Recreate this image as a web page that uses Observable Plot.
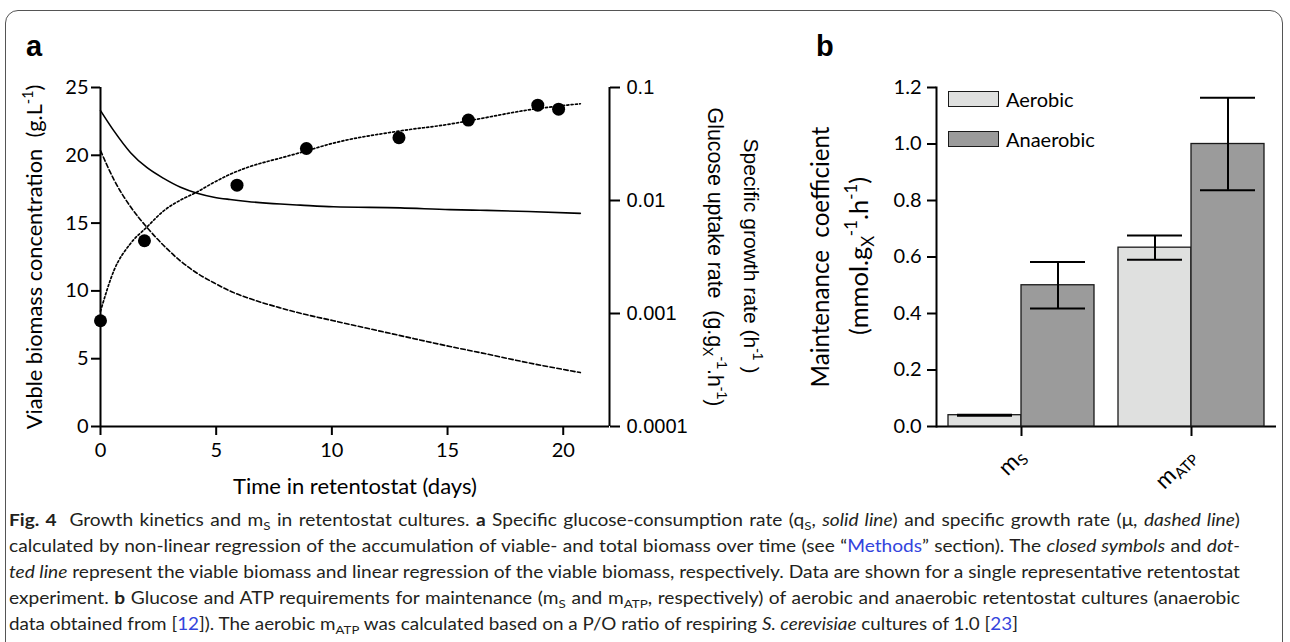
<!DOCTYPE html>
<html>
<head>
<meta charset="utf-8">
<script src="https://cdn.jsdelivr.net/npm/d3@7"></script>
<script src="https://cdn.jsdelivr.net/npm/@observablehq/plot@0.6"></script>
<style>
  html,body{margin:0;padding:0;background:#fff;}
  #root{position:relative;width:1290px;height:642px;overflow:hidden;color:#000;}
  #card{position:absolute;left:5px;top:10px;width:1278px;height:720px;border:1px solid #555;border-radius:13px;box-sizing:border-box;}
  .layer{position:absolute;top:0;}
  .layer svg{display:block;overflow:visible;}
  .panel-label{position:absolute;font-family:"Liberation Sans",Arial,sans-serif;font-weight:bold;font-size:29px;line-height:1;}
  #legend{position:absolute;left:948px;top:91px;font-family:Lato,sans-serif;font-size:20px;}
  .lg-row{position:absolute;left:0;display:flex;align-items:center;white-space:nowrap;height:16px;}
  .lg-sw{width:51px;height:16px;border:1.5px solid #1a1a1a;box-sizing:border-box;margin-right:7px;}
  #caption{position:absolute;left:9px;top:507px;font-family:Lato,sans-serif;font-size:17.5px;line-height:26px;color:#231f20;}
  .cl{white-space:nowrap;transform-origin:0 0;}
  .cl a{color:#3344dd;text-decoration:none;}
  .cl sub{font-size:0.7em;vertical-align:-0.3em;line-height:0;}
</style>
</head>
<body>
<div id="root">
  <div id="card"></div>
  <div class="layer" id="panelA1" style="left:0"></div>
  <div class="layer" id="panelA2" style="left:0"></div>
  <div class="layer" id="panelB" style="left:780px"></div>
  <div class="panel-label" style="left:26px;top:32px">a</div>
  <div class="panel-label" style="left:816px;top:32px">b</div>
  <div id="legend"></div>
  <div id="caption"></div>
</div>
<script>
// ---------- Panel a data ----------
const dayTicks = [0, 5, 10, 15, 20];
const dayMax = 22;
const biomassTicks = [0, 5, 10, 15, 20, 25];
const rateTicks = [0.0001, 0.001, 0.01, 0.1];
const rateTickLabels = ["0.0001", "0.001", "0.01", "0.1"];

// viable biomass measurements (g/L)
const viableDays = [0, 1.9, 5.9, 8.9, 12.9, 15.9, 18.9, 19.8];
const viableBiomass = [7.8, 13.7, 17.8, 20.5, 21.3, 22.6, 23.7, 23.4];

// regression curves sampled over time
const fitDays = [0, 0.58, 1.3, 2.0, 2.73, 3.46, 4.18, 4.9, 5.6, 6.34, 7.78, 8.64, 10.07, 12.96, 15.1, 16.4, 18.5, 20.74];
const viableFit = [8.5, 11.5, 13.5, 14.7, 15.9, 16.7, 17.3, 18.0, 18.6, 19.1, 19.8, 20.2, 20.9, 21.8, 22.3, 22.7, 23.35, 23.8];
// glucose uptake rate q_S (g/gX/h), solid line
const qsRate = [0.0625, 0.0413, 0.0265, 0.0196, 0.0157, 0.0131, 0.0116, 0.0107, 0.0102, 0.0098, 0.0093, 0.0091, 0.0088, 0.0086, 0.0083, 0.0082, 0.0080, 0.0077];
// specific growth rate mu (1/h), dashed line
const muRate = [0.0277, 0.0153, 0.00879, 0.00581, 0.0040, 0.00291, 0.00227, 0.00187, 0.00158, 0.00138, 0.00112, 0.001005, 0.000863, 0.000637, 0.000511, 0.000451, 0.000366, 0.000300];

// ---------- Panel b data ----------
const categories = ["mS", "mATP"];
const categoryLabels = [["m", "S"], ["m", "ATP"]];
const conditions = ["Aerobic", "Anaerobic"];
const barFills = ["#dfe0df", "#9b9b9b"];
const aerobicMean = [0.04, 0.633];
const aerobicErr = [0.002, 0.043];
const anaerobicMean = [0.50, 1.00];
const anaerobicErr = [0.082, 0.164];
const coefTicks = [0, 0.2, 0.4, 0.6, 0.8, 1.0, 1.2];

// ---------- caption ----------
const captionLines = [
  '<b>Fig.&nbsp;4</b>&nbsp; Growth kinetics and m<sub>S</sub> in retentostat cultures. <b>a</b> Specific glucose-consumption rate (q<sub>S</sub>, <i>solid line</i>) and specific growth rate (μ, <i>dashed line</i>)',
  'calculated by non-linear regression of the accumulation of viable- and total biomass over time (see “<a>Methods</a>” section). The <i>closed symbols</i> and <i>dot-</i>',
  '<i>ted line</i> represent the viable biomass and linear regression of the viable biomass, respectively. Data are shown for a single representative retentostat',
  'experiment. <b>b</b> Glucose and ATP requirements for maintenance (m<sub>S</sub> and m<sub>ATP</sub>, respectively) of aerobic and anaerobic retentostat cultures (anaerobic',
  'data obtained from [<a>12</a>]). The aerobic m<sub>ATP</sub> was calculated based on a P/O ratio of respiring <i>S. cerevisiae</i> cultures of 1.0 [<a>23</a>]'
];

// ---------- build tables ----------
const viable = viableDays.map((d, i) => ({day: d, biomass: viableBiomass[i]}));
const fit = fitDays.map((d, i) => ({day: d, biomassFit: viableFit[i], qs: qsRate[i], mu: muRate[i]}));
const barData = categories.flatMap((c, i) => [
  {category: c, condition: conditions[0], value: aerobicMean[i], err: aerobicErr[i]},
  {category: c, condition: conditions[1], value: anaerobicMean[i], err: anaerobicErr[i]}
]);

const frameA = {width: 780, height: 500, marginLeft: 100, marginRight: 171, marginTop: 87, marginBottom: 74};

const plotLeft = Plot.plot({
  ...frameA,
  x: {domain: [0, dayMax]},
  y: {domain: [0, 25]},
  style: {fontFamily: "Lato, sans-serif", fontSize: "20px", background: "transparent", color: "#000"},
  marks: [
    Plot.axisY({ticks: biomassTicks, tickSize: 9, tickPadding: 3, strokeWidth: 2, label: null}),
    Plot.axisX({ticks: dayTicks, tickSize: 9, tickPadding: 7, strokeWidth: 2, label: null}),
    Plot.ruleX([0], {stroke: "#000", strokeWidth: 2}),
    Plot.ruleY([0], {stroke: "#000", strokeWidth: 2}),
    Plot.line(fit, {x: "day", y: "biomassFit", curve: "monotone-x", stroke: "#000", strokeWidth: 1.7, strokeDasharray: "2,2.3"}),
    Plot.dot(viable, {x: "day", y: "biomass", r: 6.5, fill: "#000"})
  ]
});

const plotRight = Plot.plot({
  ...frameA,
  x: {domain: [0, dayMax], axis: null},
  y: {type: "log", domain: [0.0001, 0.1]},
  style: {fontFamily: "'Liberation Sans', Arial, sans-serif", fontSize: "20px", background: "transparent", color: "#000"},
  marks: [
    Plot.axisY({anchor: "right", ticks: rateTicks, tickFormat: d => rateTickLabels[rateTicks.indexOf(d)], tickSize: 10, tickPadding: 7, strokeWidth: 2, label: null}),
    Plot.ruleX([dayMax], {stroke: "#000", strokeWidth: 2}),
    Plot.line(fit, {x: "day", y: "qs", curve: "monotone-x", stroke: "#000", strokeWidth: 1.6}),
    Plot.line(fit, {x: "day", y: "mu", curve: "monotone-x", stroke: "#000", strokeWidth: 1.6, strokeDasharray: "4.5,2.5"})
  ]
});

const plotB = Plot.plot({
  width: 510, height: 500, marginLeft: 156, marginRight: 14, marginTop: 87, marginBottom: 74,
  fx: {domain: categories, paddingInner: 0, paddingOuter: 0, label: null},
  x: {domain: conditions, paddingInner: 0, paddingOuter: 0.154, axis: null},
  y: {domain: [0, 1.2]},
  color: {domain: conditions, range: barFills},
  style: {fontFamily: "Lato, sans-serif", fontSize: "20px", background: "transparent", color: "#000"},
  marks: [
    Plot.frame({anchor: "left", facetAnchor: "left", stroke: "#000", strokeWidth: 2}),
    Plot.axisY({ticks: coefTicks, tickFormat: d3.format(".1f"), tickSize: 9, tickPadding: 6, strokeWidth: 2, label: null}),
    Plot.axisFx({anchor: "bottom", tickSize: 10, tickPadding: 16, tickRotate: -45, strokeWidth: 2, label: null, fontSize: 23}),
    Plot.ruleY([0], {stroke: "#000", strokeWidth: 2}),
    Plot.barY(barData, {fx: "category", x: "condition", y: "value", fill: "condition", stroke: "#1a1a1a", strokeWidth: 1.3}),
    Plot.ruleX(barData, {fx: "category", x: "condition", y1: d => d.value - d.err, y2: d => d.value + d.err, stroke: "#000", strokeWidth: 2}),
    Plot.tickY(barData, {fx: "category", x: "condition", y: d => d.value - d.err, insetLeft: 9, insetRight: 9, stroke: "#000", strokeWidth: 2}),
    Plot.tickY(barData, {fx: "category", x: "condition", y: d => d.value + d.err, insetLeft: 9, insetRight: 9, stroke: "#000", strokeWidth: 2})
  ]
});

document.getElementById("panelA1").appendChild(plotLeft);
document.getElementById("panelA2").appendChild(plotRight);
document.getElementById("panelB").appendChild(plotB);

// ---------- rich text helper (super/subscripts) ----------
function richText(svg, {x, y, rotate = 0, family, size, parts, fit}) {
  const build = (s) => {
    const t = d3.select(svg).append("text")
      .attr("transform", `translate(${x},${y}) rotate(${rotate})`)
      .attr("text-anchor", "middle")
      .attr("font-family", family)
      .attr("font-size", s)
      .attr("fill", "#000")
      .style("white-space", "pre");
    let shift = 0;
    parts.forEach(([str, kind]) => {
      const target = kind === "sup" ? -0.42 * s : kind === "sub" ? 0.25 * s : 0;
      const ts = t.append("tspan").text(str).attr("dy", target - shift);
      if (kind) ts.attr("font-size", 0.66 * s);
      shift = target;
    });
    return t;
  };
  let t = build(size);
  if (fit) {
    const len = t.node().getComputedTextLength();
    t.remove();
    t = build(size * fit / len);
  }
  return t;
}

const svgA = plotRight;
richText(svgA, {x: 42, y: 257, rotate: -90, family: "Lato, sans-serif", size: 20, fit: 345,
  parts: [["Viable biomass concentration  (g.L"], ["-1", "sup"], [")"]]});
richText(svgA, {x: 355, y: 494, family: "Lato, sans-serif", size: 20, fit: 244,
  parts: [["Time in retentostat (days)"]]});
richText(svgA, {x: 744, y: 256, rotate: 90, family: "'Liberation Sans', Arial, sans-serif", size: 20, fit: 235,
  parts: [["Specific growth rate (h"], ["-1", "sup"], [" )"]]});
richText(svgA, {x: 708, y: 257, rotate: 90, family: "'Liberation Sans', Arial, sans-serif", size: 20, fit: 299,
  parts: [["Glucose uptake rate  (g.g"], ["X", "sub"], ["-1", "sup"], [".h"], ["-1", "sup"], [")"]]});

richText(plotB, {x: 49, y: 257, rotate: -90, family: "Lato, sans-serif", size: 21, fit: 261,
  parts: [["Maintenance  coefficient"]]});
richText(plotB, {x: 88, y: 256, rotate: -90, family: "Lato, sans-serif", size: 21, fit: 158,
  parts: [["(mmol.g"], ["X", "sub"], ["-1", "sup"], [".h"], ["-1", "sup"], [")"]]});

// category tick labels with subscripts
d3.select(plotB).selectAll('[aria-label="fx-axis tick label"] text').each(function(d, i) {
  const key = this.textContent;
  const idx = categories.indexOf(key);
  const [base, sub] = categoryLabels[idx >= 0 ? idx : i];
  const t = d3.select(this);
  t.text(null);
  t.append("tspan").text(base);
  t.append("tspan").text(sub).attr("font-size", 15).attr("dy", 4);
});

// ---------- legend ----------
const legend = document.getElementById("legend");
conditions.forEach((c, i) => {
  const row = document.createElement("div");
  row.className = "lg-row";
  row.style.top = (i * 39.5) + "px";
  row.innerHTML = `<div class="lg-sw" style="background:${barFills[i]}"></div><span>${c}</span>`;
  legend.appendChild(row);
});

// ---------- caption ----------
const cap = document.getElementById("caption");
const lineEls = captionLines.map(h => {
  const d = document.createElement("div");
  d.className = "cl";
  d.innerHTML = `<span>${h}</span>`;
  cap.appendChild(d);
  return d;
});
const naturals = lineEls.map(d => d.firstChild.getBoundingClientRect().width);
const target = 1231;
const k = target / Math.max(...naturals.slice(0, 4));
lineEls.forEach((d, i) => {
  if (i < 4) {
    d.style.width = (target / k) + "px";
    d.style.transform = `scaleX(${k})`;
    d.style.textAlign = "justify"; d.style.textAlignLast = "justify";
  } else {
    const k5 = 1009 / naturals[i];
    d.style.width = naturals[i] + "px";
    d.style.transform = `scaleX(${k5})`;
  }
});
</script>
</body>
</html>
